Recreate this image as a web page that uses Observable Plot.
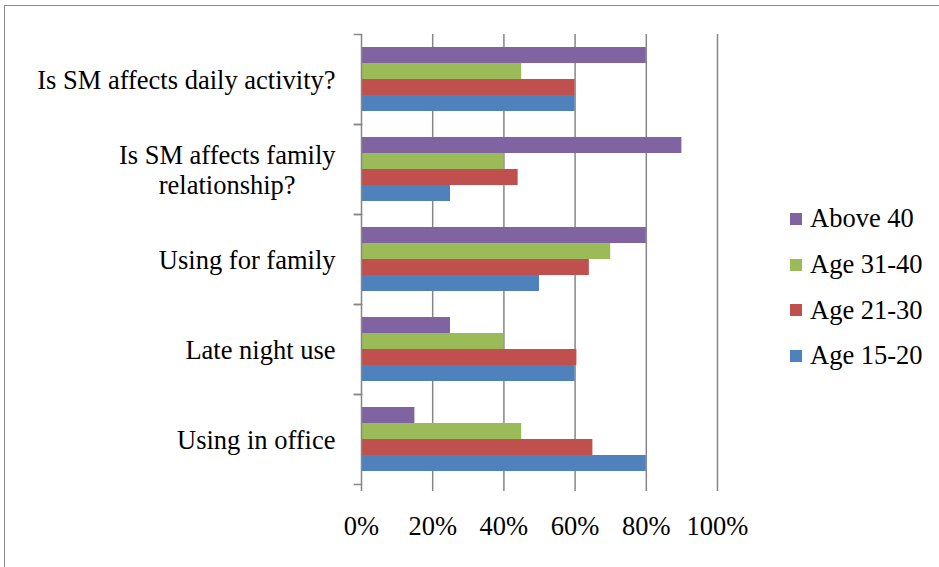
<!DOCTYPE html>
<html>
<head>
<meta charset="utf-8">
<script src="https://cdn.jsdelivr.net/npm/d3@7"></script>
<script src="https://cdn.jsdelivr.net/npm/@observablehq/plot@0.6"></script>
<style>
  html, body { margin: 0; padding: 0; background: #fff; overflow: hidden; }
  #wrap { position: relative; width: 939px; height: 567px; }
  #frame { position: absolute; left: 4px; top: 5px; width: 2000px; height: 2000px;
           border: 1.5px solid #8a8a8a; pointer-events: none; }
  #chart { position: absolute; left: 0; top: 0; }
  #legend { position: absolute; left: 790px; top: 196px; font-family: "Liberation Serif", "Times New Roman", serif; font-size: 26.5px; color: #000; }
  #legend .row { display: flex; align-items: center; height: 45.7px; white-space: nowrap; }
  #legend .sw { width: 12px; height: 12px; margin-right: 8px; flex: none; }
</style>
</head>
<body>
<div id="wrap">
  <div id="chart"></div>
  <div id="legend"></div>
  <div id="frame"></div>
</div>
<script>
// Survey questions (top to bottom) and age groups (legend order)
const categories = [
  "Is SM affects daily activity?",
  "Is SM affects family\nrelationship?",
  "Using for family",
  "Late night use",
  "Using in office"
];
const series = ["Above 40", "Age 31-40", "Age 21-30", "Age 15-20"];

// Share of respondents per question, one array per age group
const above40  = [0.80, 0.90, 0.80, 0.25, 0.15];
const age31_40 = [0.45, 0.40, 0.70, 0.40, 0.45];
const age21_30 = [0.60, 0.44, 0.64, 0.605, 0.65];
const age15_20 = [0.60, 0.25, 0.50, 0.60, 0.80];

const colors = ["#8064A2", "#9BBB59", "#C0504D", "#4F81BD"];
const xTicks = [0, 0.2, 0.4, 0.6, 0.8, 1.0];

const seriesValues = [above40, age31_40, age21_30, age15_20];
const rows = categories.flatMap((c, i) =>
  series.map((s, j) => ({category: c, series: s, value: seriesValues[j][i]}))
);

const FONT = '"Liberation Serif", "Times New Roman", serif';
const FS = 26.5;
const grid = "#868686";

// measure label widths so multi-line labels can be centred in a right-aligned block
const ctx = document.createElement("canvas").getContext("2d");
ctx.font = `${FS}px ${FONT}`;
const labelWidth = (t) => Math.max(...t.split("\n").map((l) => ctx.measureText(l).width));

const width = 939, height = 567;
const marginLeft = 361, marginRight = 222;
const plotWidth = width - marginLeft - marginRight;
const labelGap = 26;

const labelMarks = categories.map((c) =>
  Plot.text([c], {
    fy: (d) => d,
    text: (d) => d,
    frameAnchor: "left",
    textAnchor: "middle",
    dx: -(labelGap + labelWidth(c) / 2),
    lineHeight: 1.11,
    fontSize: FS,
    fill: "#000"
  })
);

const chart = Plot.plot({
  width, height,
  marginLeft, marginRight,
  marginTop: 33, marginBottom: 82,
  style: {fontFamily: FONT, fontSize: FS + "px", color: "#000", background: "transparent"},
  x: {domain: [0, 1]},
  y: {domain: series, axis: null, paddingInner: 0, paddingOuter: 0.74},
  fy: {domain: categories, axis: null, padding: 0},
  color: {domain: series, range: colors},
  marks: [
    Plot.ruleX(xTicks.slice(1), {stroke: grid, strokeWidth: 1.5}),
    Plot.barX(rows, {fy: "category", y: "series", x: "value", fill: "series"}),
    Plot.ruleX([0], {stroke: grid, strokeWidth: 1.5}),
    // short category separators to the left of the axis
    Plot.frame({anchor: "top", insetLeft: -7, insetRight: plotWidth, stroke: grid, strokeWidth: 1.5}),
    Plot.frame({anchor: "bottom", insetLeft: -7, insetRight: plotWidth, stroke: grid, strokeWidth: 1.5}),
    Plot.axisX({
      ticks: xTicks,
      tickFormat: d3.format(".0%"),
      tickSize: 7,
      tickPadding: 25,
      stroke: grid,
      strokeWidth: 1.5,
      fill: "#000",
      fontSize: FS,
      label: null
    }),
    ...labelMarks
  ]
});
document.getElementById("chart").append(chart);

// legend built from the colour scale
const cs = chart.scale("color");
const legend = d3.select("#legend");
cs.domain.forEach((s, i) => {
  const row = legend.append("div").attr("class", "row");
  row.append("div").attr("class", "sw").style("background", cs.range[i]);
  row.append("span").text(s);
});
</script>
</body>
</html>
